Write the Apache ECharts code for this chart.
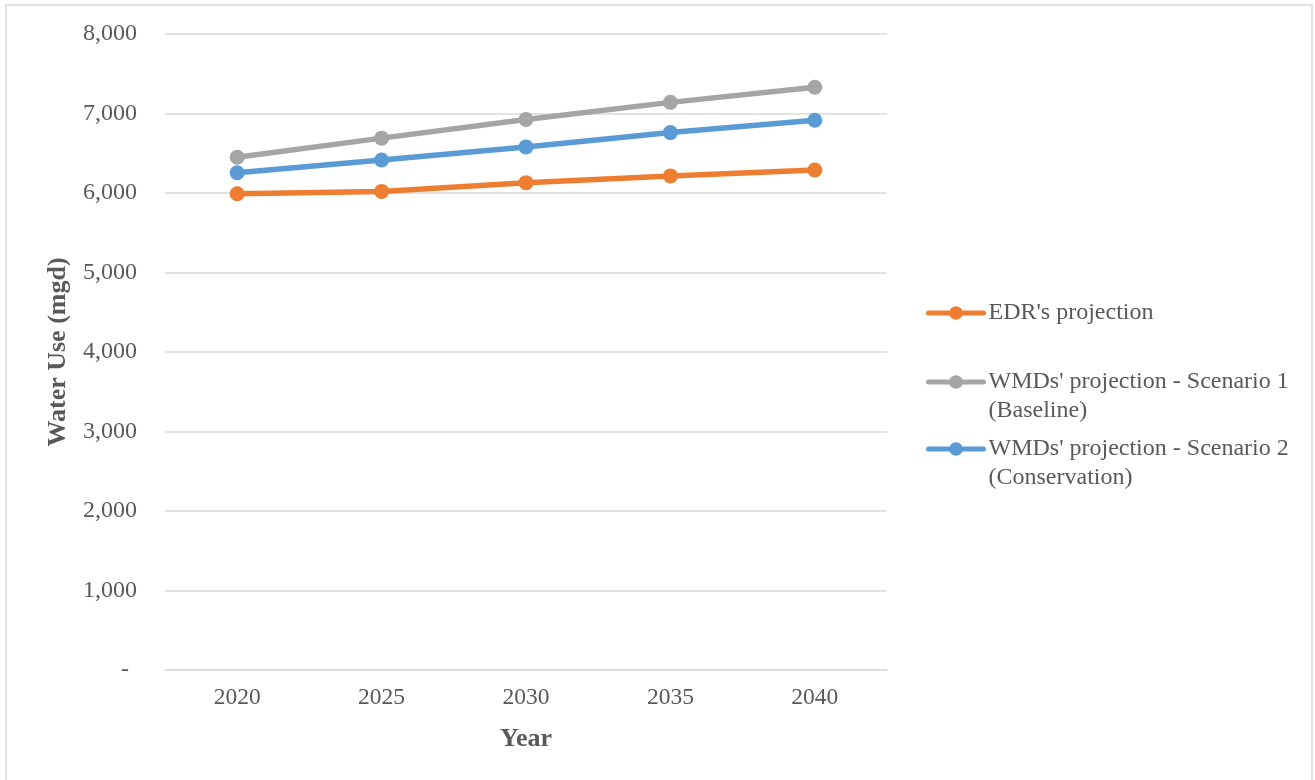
<!DOCTYPE html>
<html>
<head>
<meta charset="utf-8">
<script src="https://cdn.jsdelivr.net/npm/echarts@6/dist/echarts.min.js"></script>
<style>
  html, body { margin: 0; padding: 0; background: #ffffff; }
  #chart { width: 1315px; height: 780px; }
</style>
</head>
<body>
<div id="chart"></div>
<script>
// Projected water use, million gallons per day
const years = ['2020', '2025', '2030', '2035', '2040'];
const edrProjection = [5990, 6020, 6130, 6215, 6290];
const wmdScenario1 = [6450, 6690, 6925, 7140, 7330];
const wmdScenario2 = [6255, 6415, 6580, 6760, 6915];

const seriesNames = [
  "EDR's projection",
  "WMDs' projection - Scenario 1\n(Baseline)",
  "WMDs' projection - Scenario 2\n(Conservation)"
];
const seriesColors = ['#ED7D31', '#A5A5A5', '#5B9BD5'];
const seriesValues = [edrProjection, wmdScenario1, wmdScenario2];

const FONT = '"Liberation Serif", "Times New Roman", serif';
const TEXT = '#595959';
const GRID = '#D9D9D9';
const LINE_W = 5.5;

const chart = echarts.init(document.getElementById('chart'), null, { renderer: 'canvas' });

// Legend entries: one block each, icon aligned with the first text line
const legendCenters = [313, 382, 449];
const LINE_H = 28.5;
const ICON_H = 17;
const legends = seriesNames.map((name, i) => {
  const nLines = name.split('\n').length;
  // An empty leading line keeps the icon level with the first line of a two-line name
  const shown = nLines > 1 ? '\n' + name : name;
  const blockH = (nLines > 1 ? nLines + 1 : 1) * LINE_H;
  return {
    data: [name],
    left: 926,
    top: legendCenters[i] - blockH / 2,
    orient: 'vertical',
    padding: 0,
    itemWidth: 55,
    itemHeight: ICON_H,
    itemGap: 0,
    formatter: () => shown,
    lineStyle: { width: 5, color: seriesColors[i], cap: 'round' },
    itemStyle: { color: seriesColors[i] },
    textStyle: { fontFamily: FONT, fontSize: 24, color: TEXT, lineHeight: LINE_H }
  };
});

chart.setOption({
  backgroundColor: '#ffffff',
  animation: false,
  graphic: [{
    type: 'rect',
    shape: { x: 6, y: 5, width: 1306, height: 800 },
    style: { fill: 'none', stroke: GRID, lineWidth: 1.5 },
    silent: true
  }],
  legend: legends,
  grid: { left: 165, right: 428, top: 34, bottom: 110 },
  xAxis: {
    type: 'category',
    data: years,
    boundaryGap: true,
    name: 'Year',
    nameLocation: 'middle',
    nameGap: 56,
    nameTextStyle: { fontFamily: FONT, fontSize: 26, fontWeight: 'bold', color: TEXT },
    axisLine: { show: true, lineStyle: { color: GRID, width: 1.5 } },
    axisTick: { show: false },
    axisLabel: { fontFamily: FONT, fontSize: 23.5, color: TEXT, margin: 16 }
  },
  yAxis: {
    type: 'value',
    min: 0,
    max: 8000,
    interval: 1000,
    name: 'Water Use (mgd)',
    nameLocation: 'middle',
    nameGap: 94,
    nameTextStyle: { fontFamily: FONT, fontSize: 26, fontWeight: 'bold', color: TEXT },
    axisLine: { show: false },
    axisTick: { show: false },
    splitLine: { lineStyle: { color: GRID, width: 1.5 } },
    axisLabel: {
      fontFamily: FONT, fontSize: 24, color: TEXT, margin: 28,
      formatter: v => v === 0 ? '{z|-}' : v.toLocaleString('en-US'),
      rich: { z: { fontFamily: FONT, fontSize: 24, color: TEXT, padding: [0, 8, 0, 0] } }
    }
  },
  series: seriesNames.map((name, i) => ({
    name: name,
    type: 'line',
    data: seriesValues[i],
    symbol: 'circle',
    symbolSize: 15,
    color: seriesColors[i],
    lineStyle: { width: LINE_W, color: seriesColors[i], cap: 'round' },
    itemStyle: { color: seriesColors[i] }
  }))
});
</script>
</body>
</html>
